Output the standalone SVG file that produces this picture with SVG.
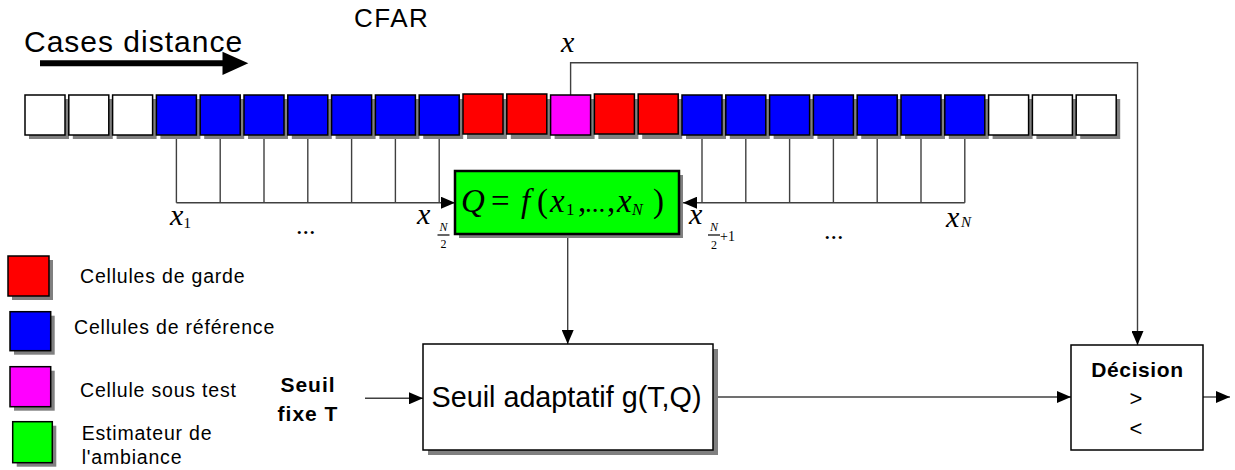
<svg xmlns="http://www.w3.org/2000/svg" width="1235" height="470" viewBox="0 0 1235 470">
<style>
.sans{font-family:"Liberation Sans",Arial,sans-serif;fill:#000}
.serif{font-family:"Liberation Serif","Times New Roman",serif;fill:#000}
.it{font-style:italic}
.leg{font-size:19.5px;letter-spacing:0.8px}
.cell{stroke:#000;stroke-width:1.5}
.sh{fill:#808080}
.ln{fill:none;stroke:#404040;stroke-width:1.4}
.box{fill:#fff;stroke:#000;stroke-width:1.5}
</style>
<defs>
<marker id="ah" markerUnits="userSpaceOnUse" markerWidth="14" markerHeight="12" refX="14" refY="6" orient="auto">
<path d="M0,0 L14,6 L0,12 z" fill="#000"/>
</marker>
</defs>
<rect width="1235" height="470" fill="#fff"/>

<g id="title">
<text class="sans" x="354" y="27" font-size="26" letter-spacing="1.5">CFAR</text>
<text class="sans" x="24" y="52" font-size="30" letter-spacing="1">Cases distance</text>
<line x1="40" y1="63.3" x2="224" y2="63.3" stroke="#000" stroke-width="6"/>
<polygon points="222.5,51.7 248.3,63.3 222.5,75" fill="#000"/>
</g>

<g id="connectors">
<path class="ln" d="M176.4,135 V202.7 M220.2,135 V202.7 M264,135 V202.7 M307.8,135 V202.7 M351.6,135 V202.7 M395.4,135 V202.7 M439.2,135 V202.7"/>
<line class="ln" x1="176.4" y1="202.7" x2="455" y2="202.7" marker-end="url(#ah)"/>
<path class="ln" d="M702,135 V202.7 M745.8,135 V202.7 M789.6,135 V202.7 M833.4,135 V202.7 M877.2,135 V202.7 M921,135 V202.7 M964.8,135 V202.7"/>
<line class="ln" x1="964.8" y1="202.7" x2="683" y2="202.7" marker-end="url(#ah)"/>
<polyline class="ln" points="570.6,95 570.6,62.7 1137.5,62.7 1137.5,345" marker-end="url(#ah)"/>
<line class="ln" x1="567.7" y1="238" x2="567.7" y2="344" marker-end="url(#ah)"/>
<line class="ln" x1="365" y1="398.3" x2="423" y2="398.3" marker-end="url(#ah)"/>
<line class="ln" x1="713" y1="397" x2="1071" y2="397" marker-end="url(#ah)"/>
<line class="ln" x1="1203" y1="397" x2="1230" y2="397" marker-end="url(#ah)"/>
</g>

<g id="cells">
<g class="sh">
<rect x="29" y="99" width="40" height="40"/><rect x="72.8" y="99" width="40" height="40"/><rect x="116.6" y="99" width="40" height="40"/>
<rect x="160.4" y="99" width="40" height="40"/><rect x="204.2" y="99" width="40" height="40"/><rect x="248" y="99" width="40" height="40"/>
<rect x="291.8" y="99" width="40" height="40"/><rect x="335.6" y="99" width="40" height="40"/><rect x="379.4" y="99" width="40" height="40"/>
<rect x="423.2" y="99" width="40" height="40"/><rect x="467" y="99" width="40" height="40"/><rect x="510.8" y="99" width="40" height="40"/>
<rect x="554.6" y="99" width="40" height="40"/><rect x="598.4" y="99" width="40" height="40"/><rect x="642.2" y="99" width="40" height="40"/>
<rect x="686" y="99" width="40" height="40"/><rect x="729.8" y="99" width="40" height="40"/><rect x="773.6" y="99" width="40" height="40"/>
<rect x="817.4" y="99" width="40" height="40"/><rect x="861.2" y="99" width="40" height="40"/><rect x="905" y="99" width="40" height="40"/>
<rect x="948.8" y="99" width="40" height="40"/><rect x="992.6" y="99" width="40" height="40"/><rect x="1036.4" y="99" width="40" height="40"/>
<rect x="1080.2" y="99" width="40" height="40"/>
</g>
<g class="cell">
<rect x="25" y="95" width="40" height="40" fill="#fff"/>
<rect x="68.8" y="95" width="40" height="40" fill="#fff"/>
<rect x="112.6" y="95" width="40" height="40" fill="#fff"/>
<rect x="156.4" y="95" width="40" height="40" fill="#0000ff"/>
<rect x="200.2" y="95" width="40" height="40" fill="#0000ff"/>
<rect x="244" y="95" width="40" height="40" fill="#0000ff"/>
<rect x="287.8" y="95" width="40" height="40" fill="#0000ff"/>
<rect x="331.6" y="95" width="40" height="40" fill="#0000ff"/>
<rect x="375.4" y="95" width="40" height="40" fill="#0000ff"/>
<rect x="419.2" y="95" width="40" height="40" fill="#0000ff"/>
<rect x="463" y="94" width="40" height="40" fill="#ff0000"/>
<rect x="506.8" y="94" width="40" height="40" fill="#ff0000"/>
<rect x="550.6" y="95" width="40" height="40" fill="#ff00ff"/>
<rect x="594.4" y="94" width="40" height="40" fill="#ff0000"/>
<rect x="638.2" y="94" width="40" height="40" fill="#ff0000"/>
<rect x="682" y="95" width="40" height="40" fill="#0000ff"/>
<rect x="725.8" y="95" width="40" height="40" fill="#0000ff"/>
<rect x="769.6" y="95" width="40" height="40" fill="#0000ff"/>
<rect x="813.4" y="95" width="40" height="40" fill="#0000ff"/>
<rect x="857.2" y="95" width="40" height="40" fill="#0000ff"/>
<rect x="901" y="95" width="40" height="40" fill="#0000ff"/>
<rect x="944.8" y="95" width="40" height="40" fill="#0000ff"/>
<rect x="988.6" y="95" width="40" height="40" fill="#fff"/>
<rect x="1032.4" y="95" width="40" height="40" fill="#fff"/>
<rect x="1076.2" y="95" width="40" height="40" fill="#fff"/>
</g>
</g>

<g id="labels">
<text class="serif it" x="561" y="52" font-size="30">x</text>
<text class="serif" y="225"><tspan class="it" x="170" font-size="30">x</tspan><tspan x="183.5" y="228" font-size="15">1</tspan></text>
<text class="serif" x="296" y="234" font-size="26">...</text>
<text class="serif it" x="417" y="223.5" font-size="30">x</text>
<text class="serif it" x="443.5" y="230.5" font-size="12" text-anchor="middle">N</text>
<line x1="437.5" y1="235" x2="449.5" y2="235" stroke="#000" stroke-width="1.2"/>
<text class="serif" x="443.5" y="248" font-size="12" text-anchor="middle">2</text>
<text class="serif it" x="689" y="224" font-size="30">x</text>
<text class="serif it" x="714" y="230.5" font-size="12" text-anchor="middle">N</text>
<line x1="708" y1="235" x2="720" y2="235" stroke="#000" stroke-width="1.2"/>
<text class="serif" x="714" y="248.5" font-size="12" text-anchor="middle">2</text>
<text class="serif" x="720" y="240.5" font-size="14">+1</text>
<text class="serif" x="824" y="239" font-size="26">...</text>
<text class="serif" y="226.7"><tspan class="it" x="946" font-size="30">x</tspan><tspan class="it" x="961" font-size="15">N</tspan></text>
</g>

<g id="estimator">
<rect class="sh" x="459" y="175" width="224" height="63"/>
<rect x="455" y="171" width="224" height="63" fill="#00ff00" stroke="#000" stroke-width="2.5"/>
<text class="serif" y="212" font-size="33"><tspan class="it" x="461">Q</tspan><tspan x="491">=</tspan><tspan class="it" x="521">f</tspan><tspan x="537">(</tspan><tspan class="it" x="550">x</tspan><tspan x="566" y="215" font-size="17">1</tspan><tspan x="578" y="212">,</tspan><tspan x="585" font-size="27">...</tspan><tspan x="607" font-size="33">,</tspan><tspan class="it" x="617">x</tspan><tspan class="it" x="632" y="215" font-size="16">N</tspan><tspan x="653" y="212">)</tspan></text>
</g>

<g id="fixed-threshold">
<text class="sans" x="308" y="391.7" font-size="21" font-weight="bold" letter-spacing="1" text-anchor="middle">Seuil</text>
<text class="sans" x="308" y="420.7" font-size="21" font-weight="bold" letter-spacing="1" text-anchor="middle">fixe T</text>
</g>

<g id="adaptive-threshold">
<rect class="sh" x="428" y="349" width="290" height="106"/>
<rect class="box" x="423" y="344" width="290" height="106"/>
<text class="sans" x="431.5" y="406.7" font-size="30" textLength="270" lengthAdjust="spacingAndGlyphs">Seuil adaptatif g(T,Q)</text>
</g>

<g id="decision">
<rect class="box" x="1071" y="345" width="132" height="105"/>
<text class="sans" x="1137.5" y="377.3" font-size="21" font-weight="bold" letter-spacing="0.6" text-anchor="middle">Décision</text>
<text class="sans" x="1136" y="406" font-size="22" text-anchor="middle">&gt;</text>
<text class="sans" x="1136" y="436" font-size="22" text-anchor="middle">&lt;</text>
</g>

<g id="legend">
<rect class="sh" x="12" y="260" width="41" height="40"/>
<rect class="cell" x="8" y="256" width="41" height="40" fill="#ff0000"/>
<text class="sans leg" x="80" y="283">Cellules de garde</text>
<rect class="sh" x="14" y="315.7" width="40.7" height="39"/>
<rect class="cell" x="10" y="311.7" width="40.7" height="39" fill="#0000ff"/>
<text class="sans leg" x="74" y="334">Cellules de référence</text>
<rect class="sh" x="14" y="370.7" width="40.7" height="40"/>
<rect class="cell" x="10" y="366.7" width="40.7" height="40" fill="#ff00ff"/>
<text class="sans leg" x="80" y="397.3">Cellule sous test</text>
<rect class="sh" x="16.7" y="425.7" width="39.6" height="41"/>
<rect class="cell" x="12.7" y="421.7" width="39.6" height="41" fill="#00ff00"/>
<text class="sans leg" x="81.7" y="440">Estimateur de</text>
<text class="sans leg" x="81.7" y="464.3">l'ambiance</text>
</g>
</svg>
